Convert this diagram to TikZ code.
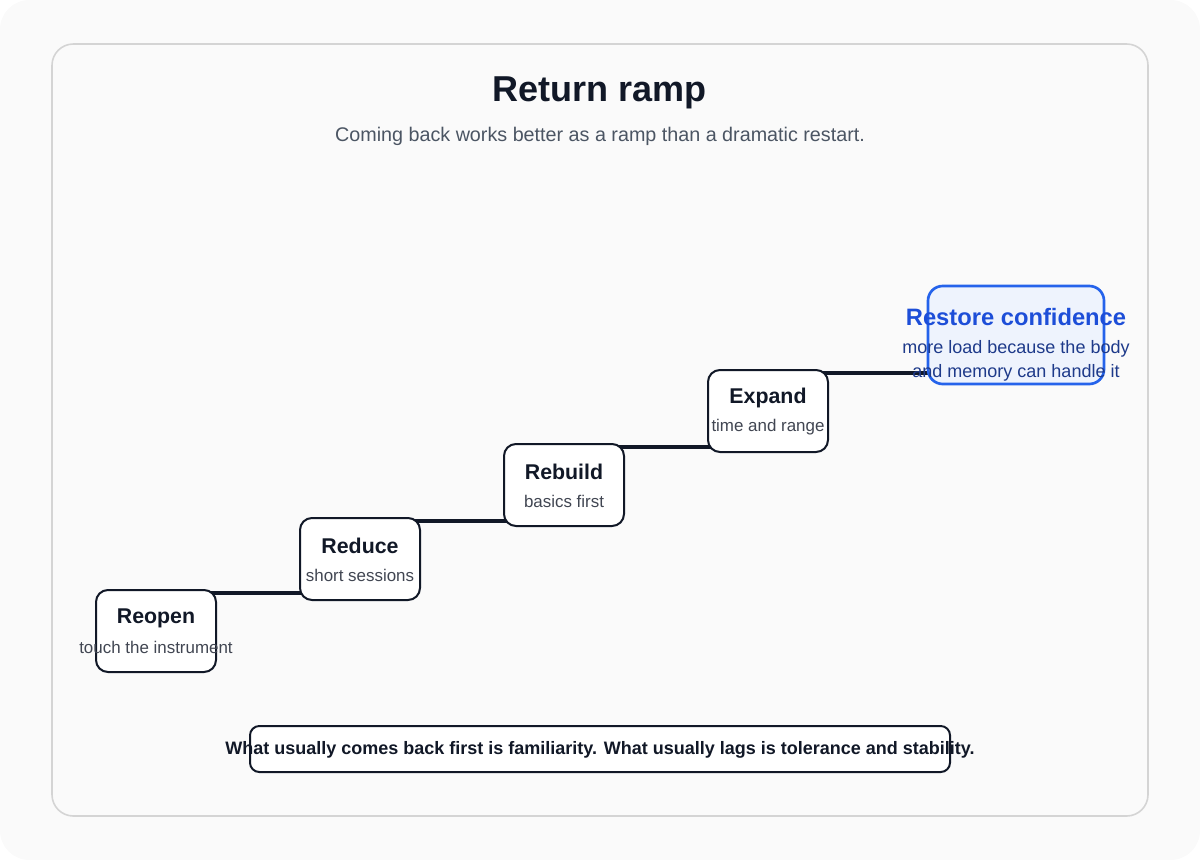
\documentclass[tikz,border=0pt]{standalone}
\usepackage{fontspec}
\setmainfont{Liberation Sans}
\usetikzlibrary{positioning,backgrounds}
\definecolor{ink}{HTML}{111827}
\definecolor{subgray}{HTML}{4B5563}
\definecolor{accent}{HTML}{2563EB}
\definecolor{accentdark}{HTML}{1D4ED8}
\definecolor{accentdeep}{HTML}{1E3A8A}
\tikzset{
  stage/.style={draw=ink, line width=1.5pt, rounded corners=9pt, fill=white,
    minimum width=90pt, minimum height=61.5pt},
  goal/.style={draw=accent, line width=2pt, rounded corners=11pt, fill=accent!8,
    minimum width=132pt, minimum height=73.5pt},
  head/.style={font=\fontsize{16}{18}\selectfont\bfseries, text=ink},
  sub/.style={font=\fontsize{12.7}{18}\selectfont, text=ink!80, align=center},
  ramp/.style={draw=ink, line width=3.2pt},
}
\begin{document}
\begin{tikzpicture}[x=0.75pt, y=-0.75pt]
\useasboundingbox (0,0) rectangle (1200,860);

\node (title) at (600,93) [font=\fontsize{27}{32}\selectfont\bfseries, text=ink] {Return ramp};
\node (subtitle) at (600,136) [font=\fontsize{14.8}{17}\selectfont, text=subgray]
  {Coming back works better as a ramp than a dramatic restart.};

% ramp stages
\node (reopen) at (156,631) [stage] {};
\node (reduce) at (360,559) [stage] {};
\node (rebuild) at (564,485) [stage] {};
\node (expand) at (768,411) [stage] {};
\node (restore) at (1016,335) [goal] {};

\begin{scope}[on background layer]
  \fill[black!2, rounded corners=22pt] (0,0) rectangle (1200,860);
  \draw[black!17, line width=1.2pt, fill=black!2, rounded corners=16pt] (52,44) rectangle (1148,816);
  \draw[ramp] ([yshift=-3pt]reopen.north) -- ([yshift=-3pt]reopen.north -| reduce.center);
  \draw[ramp] ([yshift=-3pt]reduce.north) -- ([yshift=-3pt]reduce.north -| rebuild.center);
  \draw[ramp] ([yshift=-3pt]rebuild.north) -- ([yshift=-3pt]rebuild.north -| expand.center);
  \draw[ramp] ([yshift=-3pt]expand.north) -- ([yshift=-3pt]expand.north -| restore.center);
\end{scope}

\node (reopenhead) at (156,618) [head] {Reopen};
\node (reopensub) at (156,647) [sub] {touch the instrument};
\node (reducehead) at (360,546) [head] {Reduce};
\node (reducesub) at (360,575) [sub] {short sessions};
\node (rebuildhead) at (564,472) [head] {Rebuild};
\node (rebuildsub) at (564,501) [sub] {basics first};
\node (expandhead) at (768,398) [head] {Expand};
\node (expandsub) at (768,427) [sub] {time and range};
\node (restorehead) at (1016,317) [head, font=\fontsize{17.8}{20}\selectfont\bfseries, text=accentdark] {Restore confidence};
\node (restoresub) at (1016,361) [sub, font=\fontsize{13.5}{18}\selectfont, text=accentdeep]
  {more load because the body\\and memory can handle it};

\node (note) at (600,749) [draw=ink, line width=1.5pt, rounded corners=7pt, fill=white,
  minimum width=525pt, minimum height=34.5pt] {};
\node (notetext) at (600,750) [font=\fontsize{13.5}{16}\selectfont\bfseries, text=ink]
  {What usually comes back first is familiarity. What usually lags is tolerance and stability.};
\end{tikzpicture}
\end{document}
